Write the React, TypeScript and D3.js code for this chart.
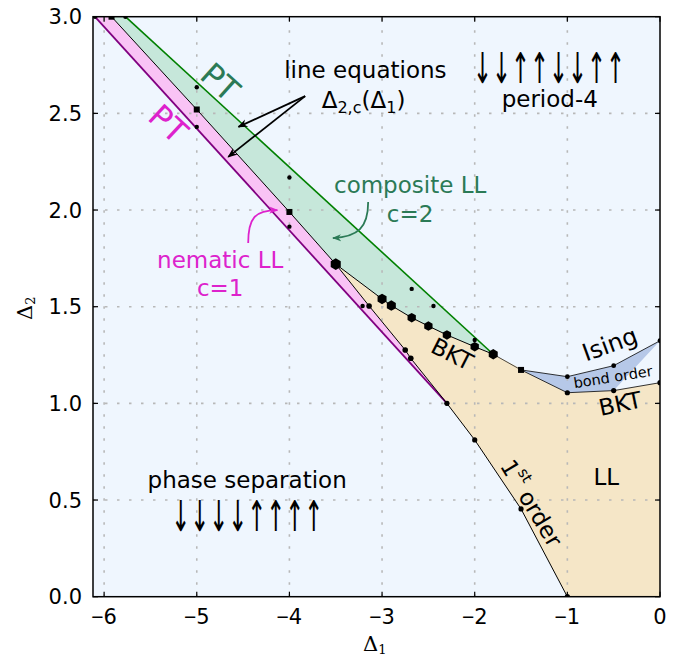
import React from 'react';
import * as d3 from 'd3';

type Pt = [number, number];

// phase boundaries (Δ1, Δ2)
const purpleLine: Pt[] = [[-6.1, 3.0], [-2.3, 1.0]];
const purpleDots: Pt[] = [[-6.1, 3.0], [-5, 2.43], [-4, 1.914], [-3.21, 1.504], [-2.3, 1.0]];
const blackLine: Pt[] = [[-5.92, 3.0], [-5, 2.52], [-4, 1.99], [-3.5, 1.72]];
const greenLine: Pt[] = [[-5.77, 3.0], [-1.8, 1.254]];
const greenDots: Pt[] = [[-5.77, 3.0], [-5, 2.635], [-4, 2.168], [-2.68, 1.592], [-2.445, 1.504], [-2.0, 1.328]];
const bktUpper: Pt[] = [[-3.5, 1.72], [-3.0, 1.54], [-2.9, 1.506], [-2.68, 1.443], [-2.5, 1.4], [-2.3, 1.354], [-2.0, 1.293], [-1.8, 1.254]];
const hexSizes = [5.8, 5.2, 5.2, 4.8, 4.8, 4.8, 4.8, 5.2];
const tanLeft: Pt[] = [[-3.5, 1.72], [-3.14, 1.504], [-2.75, 1.276], [-2.69, 1.233], [-2.3, 1.0]];
const firstOrder: Pt[] = [[-2.3, 1.0], [-2.0, 0.811], [-1.5, 0.454], [-1.0, 0.0]];
const bondTop: Pt[] = [[-1.5, 1.173], [-1.0, 1.138], [-0.5, 1.195], [0, 1.324]];
const bondBottom: Pt[] = [[-1.5, 1.173], [-1.0, 1.055], [-0.5, 1.066], [0, 1.107]];

const spinsPeriod4 = '↓↓↑↑↓↓↑↑';
const spinsSeparated = '↓↓↓↓↑↑↑↑';

const xTicks = [-6, -5, -4, -3, -2, -1, 0];
const yTicks = [0, 0.5, 1.0, 1.5, 2.0, 2.5, 3.0];

const W = 682, H = 656;
const x = d3.scaleLinear().domain([-6.12, 0]).range([93, 660]);
const y = d3.scaleLinear().domain([0, 3]).range([596.7, 16.7]);

const line = d3.line<Pt>().x(d => x(d[0])).y(d => y(d[1]));
const poly = (pts: Pt[]) => line(pts) + 'Z';

const hexagon = (cx: number, cy: number, r: number) => {
	const pts = d3.range(6).map(i => {
		const a = Math.PI / 6 + i * Math.PI / 3;
		return [cx + r * Math.cos(a), cy + r * Math.sin(a)];
	});
	return 'M' + pts.map(p => p.join(',')).join('L') + 'Z';
};

const SANS = 'DejaVu Sans, sans-serif';
const MAGENTA = '#dd22cc';
const DKGREEN = '#2b7a56';
const FS = 23;

const App: React.FC = () => {
	const rev = (a: Pt[]) => [...a].reverse();
	const tan = [...bktUpper, ...bondBottom.slice(1), [0, 0] as Pt, ...rev(firstOrder), ...rev(tanLeft).slice(1)];
	const green = [...greenLine, ...rev(bktUpper).slice(1), ...rev(blackLine).slice(1)];
	const pink = [...purpleLine, ...rev(tanLeft).slice(1), ...rev(blackLine).slice(1)];
	const blue = [...bondTop, ...rev(bondBottom).slice(1)];

	const lt = (px: number, py: number) => `translate(${x(px)},${y(py)})`;

	return (
		<svg width={W} height={H} style={{ position: 'absolute', left: 0, top: 0 }}>
			<defs>
				<clipPath id="plot">
					<rect x={x(-6.12)} y={y(3)} width={x(0) - x(-6.12)} height={y(0) - y(3)} />
				</clipPath>
				<marker id="ahBlack" viewBox="0 0 10 10" refX="9" refY="5" markerWidth="10" markerHeight="10" orient="auto" markerUnits="userSpaceOnUse">
					<path d="M0,1 L10,5 L0,9 L3,5 Z" fill="#000" />
				</marker>
				<marker id="ahGreen" viewBox="0 0 10 10" refX="9" refY="5" markerWidth="9" markerHeight="9" orient="auto" markerUnits="userSpaceOnUse">
					<path d="M0,1 L10,5 L0,9 L3,5 Z" fill={DKGREEN} />
				</marker>
				<marker id="ahMag" viewBox="0 0 10 10" refX="9" refY="5" markerWidth="9" markerHeight="9" orient="auto" markerUnits="userSpaceOnUse">
					<path d="M0,1 L10,5 L0,9 L3,5 Z" fill={MAGENTA} />
				</marker>
			</defs>

			{/* background */}
			<rect x={x(-6.12)} y={y(3)} width={x(0) - x(-6.12)} height={y(0) - y(3)} fill="#eff6fe" />

			<g clipPath="url(#plot)">
				<path d={poly(tan)} fill="#f5e6c7" />
				<path d={poly(green)} fill="#c6e7da" />
				<path d={poly(pink)} fill="#f9c3f5" />
				<path d={poly(blue)} fill="#b6c8e8" />

				{/* grid */}
				{xTicks.slice(0, -1).map(t => (
					<line key={'gx' + t} x1={x(t)} x2={x(t)} y1={y(0)} y2={y(3)} stroke="#b8b8b8" strokeWidth={1.6} strokeDasharray="2.5,9.5" />
				))}
				{yTicks.slice(1, -1).map(t => (
					<line key={'gy' + t} x1={x(-6.12)} x2={x(0)} y1={y(t)} y2={y(t)} stroke="#b8b8b8" strokeWidth={1.6} strokeDasharray="2.5,9.5" />
				))}

				{/* boundaries */}
				<path d={line(purpleLine)!} fill="none" stroke="#800080" strokeWidth={1.8} />
				<path d={line(blackLine)!} fill="none" stroke="#000" strokeWidth={1} />
				<path d={line(greenLine)!} fill="none" stroke="#008000" strokeWidth={1.6} />
				<path d={line(bktUpper)!} fill="none" stroke="#000" strokeWidth={1} />
				<path d={line(tanLeft)!} fill="none" stroke="#000" strokeWidth={1} />
				<path d={line(firstOrder)!} fill="none" stroke="#000" strokeWidth={1} />
				<path d={line([bktUpper[bktUpper.length - 1], bondTop[0]])!} fill="none" stroke="#000" strokeWidth={0.7} />
				<path d={line(bondTop)!} fill="none" stroke="#000" strokeWidth={0.8} />
				<path d={line(bondBottom)!} fill="none" stroke="#000" strokeWidth={0.8} />

				{/* markers */}
				{purpleDots.map((d, i) => <circle key={'pd' + i} cx={x(d[0])} cy={y(d[1])} r={2.2} fill="#000" />)}
				{greenDots.map((d, i) => <circle key={'gd' + i} cx={x(d[0])} cy={y(d[1])} r={2.2} fill="#000" />)}
				{blackLine.slice(0, 3).map((d, i) => <rect key={'sq' + i} x={x(d[0]) - 3} y={y(d[1]) - 3} width={6} height={6} fill="#000" />)}
				{tanLeft.slice(1, -1).map((d, i) => <circle key={'tl' + i} cx={x(d[0])} cy={y(d[1])} r={2.8} fill="#000" />)}
				{bktUpper.map((d, i) => <path key={'hx' + i} d={hexagon(x(d[0]), y(d[1]), hexSizes[i])} fill="#000" />)}
				{firstOrder.map((d, i) => <circle key={'fo' + i} cx={x(d[0])} cy={y(d[1])} r={2.6} fill="#000" />)}
				{bondTop.slice(1).map((d, i) => <circle key={'bt' + i} cx={x(d[0])} cy={y(d[1])} r={2.4} fill="#000" />)}
				{bondBottom.slice(1).map((d, i) => <circle key={'bb' + i} cx={x(d[0])} cy={y(d[1])} r={2.6} fill="#000" />)}
				<rect x={x(bondTop[0][0]) - 3} y={y(bondTop[0][1]) - 3} width={6} height={6} fill="#000" />
			</g>

			{/* spines and ticks */}
			<rect x={x(-6.12)} y={y(3)} width={x(0) - x(-6.12)} height={y(0) - y(3)} fill="none" stroke="#000" strokeWidth={1.5} />
			{xTicks.map(t => (
				<g key={'xt' + t}>
					<line x1={x(t)} x2={x(t)} y1={y(0)} y2={y(0) - 5} stroke="#000" strokeWidth={1.2} />
					<line x1={x(t)} x2={x(t)} y1={y(3)} y2={y(3) + 5} stroke="#000" strokeWidth={1.2} />
					<text x={x(t)} y={y(0) + 27} textAnchor="middle" fontFamily={SANS} fontSize={21}>
						{t < 0 ? <><tspan fontFamily="Liberation Sans, sans-serif">{'\u2212'}</tspan>{Math.abs(t)}</> : t}
					</text>
				</g>
			))}
			{yTicks.map(t => (
				<g key={'yt' + t}>
					<line x1={x(-6.12)} x2={x(-6.12) + 5} y1={y(t)} y2={y(t)} stroke="#000" strokeWidth={1.2} />
					<line x1={x(0)} x2={x(0) - 5} y1={y(t)} y2={y(t)} stroke="#000" strokeWidth={1.2} />
					<text x={x(-6.12) - 11} y={y(t) + 7.5} textAnchor="end" fontFamily={SANS} fontSize={21}>{t.toFixed(1)}</text>
				</g>
			))}

			{/* axis labels */}
			<text x={363} y={651} fontFamily="DejaVu Serif, serif" fontSize={21}>Δ<tspan fontSize={13} dy={3}>1</tspan></text>
			<text transform="translate(32,320) rotate(-90)" fontFamily="DejaVu Serif, serif" fontSize={21}>Δ<tspan fontSize={13} dy={3}>2</tspan></text>

			{/* annotations */}
			<text transform={`${lt(-4.75, 2.66)} rotate(42)`} textAnchor="middle" dominantBaseline="central" fontFamily={SANS} fontSize={32} fill={DKGREEN}>PT</text>
			<text transform={`${lt(-5.31, 2.445)} rotate(43)`} textAnchor="middle" dominantBaseline="central" fontFamily={SANS} fontSize={32} fill={MAGENTA}>PT</text>

			<text x={x(-3.18)} y={y(2.683)} textAnchor="middle" fontFamily={SANS} fontSize={FS}>line equations</text>
			<text x={x(-3.2)} y={y(2.53)} textAnchor="middle" fontFamily={SANS} fontSize={FS}>
				Δ<tspan fontSize={16} dy={5}>2,c</tspan><tspan dy={-5}>(Δ</tspan><tspan fontSize={16} dy={5}>1</tspan><tspan dy={-5}>)</tspan>
			</text>
			<line x1={x(-3.83)} y1={y(2.589)} x2={x(-4.55)} y2={y(2.43)} stroke="#000" strokeWidth={1.8} markerEnd="url(#ahBlack)" />
			<line x1={x(-3.83)} y1={y(2.589)} x2={x(-4.66)} y2={y(2.275)} stroke="#000" strokeWidth={1.8} markerEnd="url(#ahBlack)" />

			<text transform={`translate(${x(-1.198)},83) scale(1,1.25)`} textAnchor="middle" fontFamily={SANS} fontSize={34} textLength={152} lengthAdjust="spacingAndGlyphs">{spinsPeriod4}</text>
			<text x={x(-1.19)} y={y(2.535)} textAnchor="middle" fontFamily={SANS} fontSize={FS}>period-4</text>

			<text x={x(-2.697)} y={y(2.089)} textAnchor="middle" fontFamily={SANS} fontSize={FS} fill={DKGREEN}>composite LL</text>
			<text x={x(-2.697)} y={y(1.94)} textAnchor="middle" fontFamily={SANS} fontSize={FS} fill={DKGREEN}>c=2</text>
			<path d={`M${x(-3.15)},${y(2.041)} C${x(-3.15)},${y(1.91)} ${x(-3.26)},${y(1.86)} ${x(-3.53)},${y(1.855)}`} fill="none" stroke={DKGREEN} strokeWidth={1.8} markerEnd="url(#ahGreen)" />

			<text x={x(-4.747)} y={y(1.7)} textAnchor="middle" fontFamily={SANS} fontSize={FS} fill={MAGENTA}>nematic LL</text>
			<text x={x(-4.747)} y={y(1.555)} textAnchor="middle" fontFamily={SANS} fontSize={FS} fill={MAGENTA}>c=1</text>
			<path d={`M${x(-4.445)},${y(1.829)} C${x(-4.445)},${y(1.96)} ${x(-4.37)},${y(2.0)} ${x(-4.13)},${y(2.0)}`} fill="none" stroke={MAGENTA} strokeWidth={1.8} markerEnd="url(#ahMag)" />

			<text transform={`${lt(-2.244, 1.255)} rotate(27)`} textAnchor="middle" dominantBaseline="central" fontFamily={SANS} fontSize={FS}>BKT</text>
			<text transform={`${lt(-0.54, 1.305)} rotate(-20)`} textAnchor="middle" dominantBaseline="central" fontFamily={SANS} fontSize={24}>Ising</text>
			<text transform={`${lt(-0.507, 1.136)} rotate(-9)`} textAnchor="middle" dominantBaseline="central" fontFamily={SANS} fontSize={14.5}>bond order</text>
			<text transform={`${lt(-0.43, 0.998)} rotate(-12)`} textAnchor="middle" dominantBaseline="central" fontFamily={SANS} fontSize={FS}>BKT</text>
			<text transform={lt(-0.58, 0.618)} textAnchor="middle" dominantBaseline="central" fontFamily={SANS} fontSize={FS}>LL</text>
			<text transform={`${lt(-1.39, 0.484)} rotate(59)`} textAnchor="middle" dominantBaseline="central" fontFamily={SANS} fontSize={FS}>
				1<tspan fontSize={15} dy={-9}>st</tspan><tspan dy={9}> order</tspan>
			</text>

			<text x={x(-4.456)} y={488} textAnchor="middle" fontFamily={SANS} fontSize={FS}>phase separation</text>
			<text transform={`translate(${x(-4.456)},531) scale(1,1.25)`} textAnchor="middle" fontFamily={SANS} fontSize={34} textLength={152} lengthAdjust="spacingAndGlyphs">{spinsSeparated}</text>
		</svg>
	);
};

export default App;
